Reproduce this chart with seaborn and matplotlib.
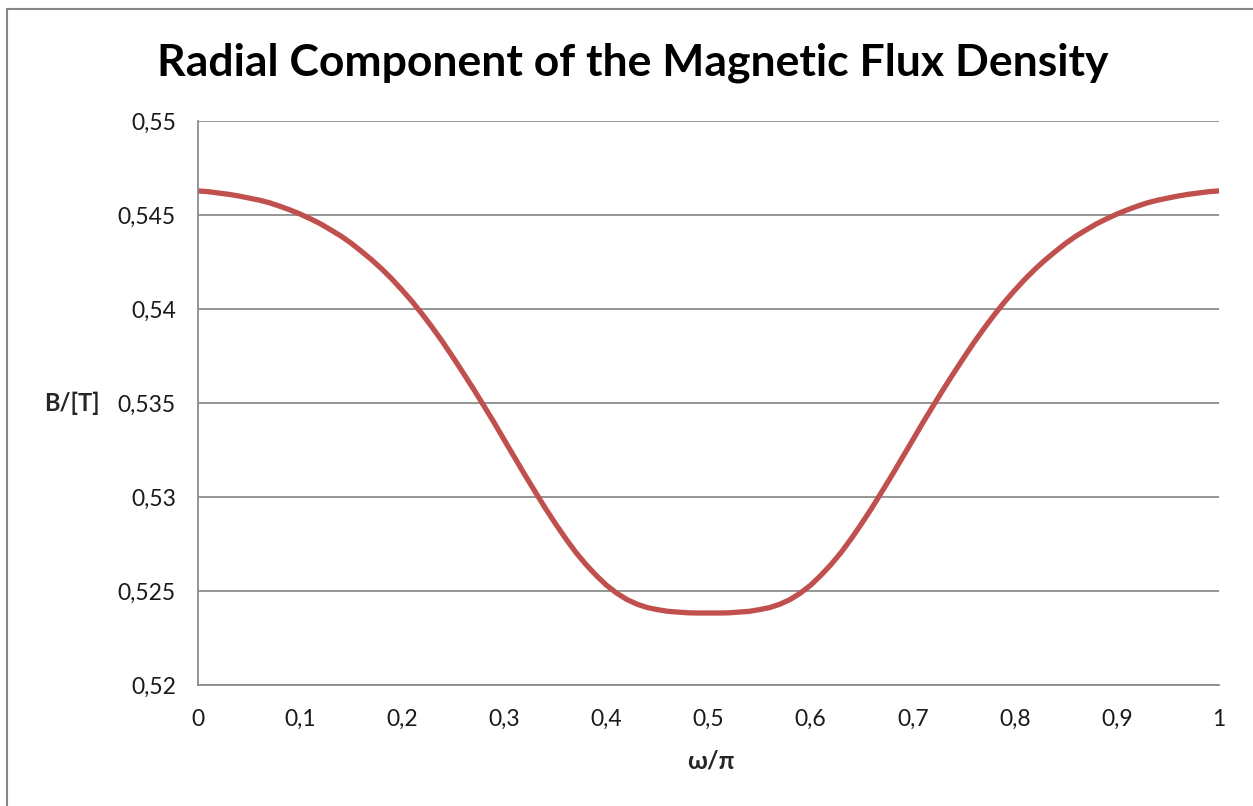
import numpy as np
import pandas as pd
import matplotlib
matplotlib.use('Agg')
import matplotlib.pyplot as plt
import seaborn as sns
from matplotlib.ticker import FuncFormatter, MultipleLocator
from matplotlib.patches import Rectangle

# Values (omega/pi vs radial flux density), step 0.01
omega_pi = np.linspace(0, 1, 101)
b_radial = [
    0.54628, 0.54624, 0.54617, 0.54610, 0.54601, 0.54590, 0.54579, 0.54565,
    0.54547, 0.54527, 0.54505, 0.54480, 0.54453, 0.54421, 0.54388, 0.54350,
    0.54307, 0.54262, 0.54213, 0.54159, 0.54100, 0.54038, 0.53970, 0.53898,
    0.53822, 0.53741, 0.53658, 0.53573, 0.53485, 0.53396, 0.53303, 0.53211,
    0.53119, 0.53030, 0.52942, 0.52859, 0.52780, 0.52706, 0.52641, 0.52583,
    0.52531, 0.52489, 0.52455, 0.52430, 0.52412, 0.52401, 0.52392, 0.52388,
    0.52384, 0.52383, 0.52383,
    0.52383, 0.52384, 0.52388, 0.52392, 0.52401, 0.52412, 0.52430, 0.52455,
    0.52489, 0.52531, 0.52583, 0.52641, 0.52706, 0.52780, 0.52859, 0.52942,
    0.53030, 0.53119, 0.53211, 0.53303, 0.53396, 0.53485, 0.53573, 0.53658,
    0.53741, 0.53822, 0.53898, 0.53970, 0.54038, 0.54100, 0.54159, 0.54213,
    0.54262, 0.54307, 0.54350, 0.54388, 0.54421, 0.54453, 0.54480, 0.54505,
    0.54527, 0.54547, 0.54565, 0.54579, 0.54590, 0.54601, 0.54610, 0.54617,
    0.54624, 0.54628,
]

df = pd.DataFrame({'omega_pi': omega_pi, 'B': b_radial})

sns.set_style('white')
plt.rcParams['font.family'] = ['Lato', 'DejaVu Sans']

fig = plt.figure(figsize=(12.53, 8.06), dpi=100)
ax = fig.add_axes([0.158, 0.1501, 0.8149, 0.6998])

# outer chart frame like the spreadsheet chart border
fig.patches.append(Rectangle((7 / 1253, -0.1), 1.2, 1 - 9 / 806 + 0.1,
                             transform=fig.transFigure, fill=False,
                             edgecolor='#878787', linewidth=1.5))

sns.lineplot(data=df, x='omega_pi', y='B', ax=ax, color='#C0504D',
             linewidth=3.8)

ax.set_xlim(0, 1)
ax.set_ylim(0.52, 0.55)
ax.xaxis.set_major_locator(MultipleLocator(0.1))
ax.yaxis.set_major_locator(MultipleLocator(0.005))
comma = FuncFormatter(lambda v, p: f"{round(v, 4):g}".replace('.', ','))
ax.xaxis.set_major_formatter(comma)
ax.yaxis.set_major_formatter(comma)

ax.grid(axis='y', color='#8C8C8C', linewidth=1.3)
ax.grid(axis='x', visible=False)
ax.set_axisbelow(True)
for s in ['top', 'right']:
    ax.spines[s].set_visible(False)
for s in ['left', 'bottom']:
    ax.spines[s].set_color('#8C8C8C')
    ax.spines[s].set_linewidth(1.3)

ax.tick_params(axis='both', direction='out', length=6, width=1.3,
               color='#8C8C8C', labelsize=16.5, labelcolor='#1a1a1a')
ax.tick_params(axis='y', pad=10)
ax.tick_params(axis='x', pad=11)

ax.set_xlabel('')
ax.set_ylabel('')
fig.text(0.505, 0.922, 'Radial Component of the Magnetic Flux Density',
         ha='center', va='center', fontsize=32, fontweight='bold', color='black')
fig.text(72 / 1253, 1 - 403 / 806, 'B/[T]', ha='center', va='center',
         fontsize=17, fontweight='bold')
fig.text(711 / 1253, 1 - 761 / 806, 'ω/π', ha='center', va='center',
         fontsize=18, fontweight='bold')

fig.savefig('out.png', dpi=100)
